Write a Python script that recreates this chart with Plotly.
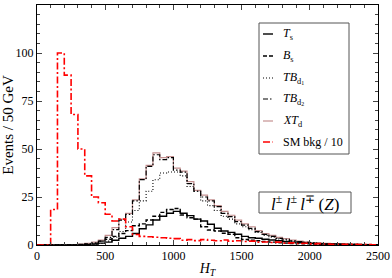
import plotly.graph_objects as go

# ---------------- data (50 GeV bins, 0..2500) ----------------
bin_edges_lo = list(range(0, 2500, 50))

T_s = [0, 0, 0, 0, 0, 0, 0, 0.2, 0.5, 1, 1.5, 2.5, 3.5, 4.5, 6, 8.5, 10.5, 13, 15, 16.5,
       17.5, 16.5, 15.3, 13.5, 12.5, 10.8, 8.7, 7.3, 6.6, 5.6, 4.5, 3.8, 3.5, 3, 2.6, 2.2, 1.8, 1.5, 1.2, 1,
       0.8, 0.7, 0.6, 0.5, 0.4, 0.3, 0.3, 0.2, 0.2, 0.1]
B_s = [0, 0, 0, 0, 0, 0, 0, 0.5, 1, 2, 3, 4.5, 6, 7.5, 10, 11, 13, 15, 17, 18.5,
       19, 15.6, 14.2, 13.5, 9.5, 7.8, 7.3, 6.1, 5.6, 3.8, 2.9, 2.5, 2.2, 1.8, 1.5, 1.2, 1, 0.8, 0.7, 0.6,
       0.5, 0.4, 0.3, 0.3, 0.2, 0.2, 0.1, 0.1, 0.1, 0.1]
TB_d1 = [0, 0, 0, 0, 0, 0, 0, 0, 0.3, 0.8, 2, 4, 7, 12, 18, 23, 28, 34, 37.5, 38,
         38, 36, 30.5, 28, 23, 20.5, 18, 15, 13.5, 11, 9.5, 8, 6.5, 5, 4, 3.2, 2.6, 2, 1.6, 1.3,
         1, 0.8, 0.6, 0.5, 0.4, 0.3, 0.3, 0.2, 0.2, 0.1]
TB_d2 = [0, 0, 0, 0, 0, 0, 0.3, 0.5, 1, 2, 4, 8, 13, 16, 23, 34, 41, 47, 44.5, 45.5,
         39, 38, 32, 28, 25, 23, 20, 16.5, 14.8, 12.2, 10.4, 8.7, 7, 5.5, 4.5, 3.5, 3, 2.2, 1.8, 1.4,
         1.1, 0.9, 0.7, 0.6, 0.5, 0.4, 0.3, 0.3, 0.2, 0.2]
XT_d = [0, 0, 0, 0, 0, 0, 0.5, 0.8, 1.5, 2.5, 5, 9, 13.5, 16.5, 23.5, 34.5, 41.5, 48, 45.5, 46,
        40, 38.5, 33, 28.5, 26, 23.5, 20.5, 17.5, 15.5, 13, 11, 9.5, 7.5, 6, 5, 4, 3.3, 2.6, 2, 1.6,
        1.3, 1.0, 0.8, 0.7, 0.6, 0.5, 0.4, 0.3, 0.3, 0.2]
SM_bkg = [0, 0, 18.5, 100, 88.5, 68, 50, 36, 25, 22, 16, 12.5, 13.5, 9.5, 5.5, 4.5, 4.3, 4, 3.8, 3.5,
          3.3, 2.5, 2.8, 2.3, 2.8, 2.5, 2.2, 2.6, 2, 2.2, 1.8, 2, 1.5, 1.6, 1.3, 1.5, 1, 1.1, 0.8, 0.9,
          0.6, 0.7, 0.5, 0.4, 0.4, 0.3, 0.3, 0.2, 0.2, 0.1]

x_ticks = [0, 500, 1000, 1500, 2000, 2500]
y_ticks = [0, 25, 50, 75, 100, 125]

names = ["<i>T</i><sub>s</sub>", "<i>B</i><sub>s</sub>", "<i>TB</i><sub>d<sub>1</sub></sub>",
         "<i>TB</i><sub>d<sub>2</sub></sub>", "<i>XT</i><sub>d</sub>", "SM bkg / 10"]

# ---------------- styling ----------------
FONT = "Liberation Serif"
styles = {
    "T_s": dict(color="black", width=1.4, dash="solid"),
    "B_s": dict(color="black", width=1.4, dash="4px,2px"),
    "TB_d1": dict(color="black", width=1.1, dash="1px,2px"),
    "TB_d2": dict(color="black", width=1.2, dash="5px,2px,1.5px,2px"),
    "XT_d": dict(color="#c49090", width=1.2, dash="solid"),
    "SM": dict(color="#ff0000", width=1.6, dash="7px,2.5px,2px,2.5px"),
}

series = [("XT_d", XT_d, 4), ("TB_d1", TB_d1, 2), ("TB_d2", TB_d2, 3),
          ("B_s", B_s, 1), ("T_s", T_s, 0), ("SM", SM_bkg, 5)]

fig = go.Figure()
xs = bin_edges_lo + [2500]
for key, vals, ni in series:
    ys = list(vals) + [vals[-1]]
    fig.add_trace(go.Scatter(x=xs, y=ys, mode="lines", line_shape="hv",
                             line=styles[key], name=names[ni], showlegend=False,
                             hoverinfo="skip"))

# ---------------- layout ----------------
L, R, T, B = 37, 14, 5, 33
W, H = 392, 278
pw, ph = W - L - R, H - T - B

def px2paper(px, py):
    return (px - L) / pw, (H - B - py) / ph

fig.update_layout(
    width=W, height=H,
    margin=dict(l=L, r=R, t=T, b=B, autoexpand=False),
    paper_bgcolor="white", plot_bgcolor="white",
    font=dict(family=FONT, size=12, color="black"),
    showlegend=False,
)
fig.update_xaxes(range=[0, 2500], tickvals=x_ticks, ticks="inside", ticklen=5,
                 showline=True, linecolor="black", linewidth=1, mirror="allticks",
                 showgrid=False, zeroline=False, automargin=False,
                 minor=dict(ticks="inside", ticklen=3, dtick=100, showgrid=False),
                 tickfont=dict(family=FONT, size=12),
                 title=dict(text="<i>H<sub>T</sub></i>", font=dict(family=FONT, size=14), standoff=2))
fig.update_yaxes(range=[0, 125], tickvals=y_ticks, ticks="inside", ticklen=5,
                 showline=True, linecolor="black", linewidth=1, mirror="allticks",
                 showgrid=False, zeroline=False, automargin=False,
                 minor=dict(ticks="inside", ticklen=3, dtick=5, showgrid=False),
                 tickfont=dict(family=FONT, size=12),
                 title=dict(text="Events / 50 GeV", font=dict(family=FONT, size=15), standoff=3))

# ---------------- manual legend ----------------
shapes = []
annotations = []
x0, y0 = px2paper(259, 23)
x1, y1 = px2paper(349, 154)
shapes.append(dict(type="rect", xref="paper", yref="paper", x0=x0, y0=y1, x1=x1, y1=y0,
                   line=dict(color="#555555", width=1), fillcolor="white", layer="above"))
legend_keys = ["T_s", "B_s", "TB_d1", "TB_d2", "XT_d", "SM"]
row_y = [34, 56, 78, 99, 121, 142]
for i, key in enumerate(legend_keys):
    lx0, ly = px2paper(263, row_y[i])
    lx1, _ = px2paper(273, row_y[i])
    st = dict(styles[key])
    shapes.append(dict(type="line", xref="paper", yref="paper", x0=lx0, x1=lx1, y0=ly, y1=ly,
                       line=st, layer="above"))
    tx, _ = px2paper(281, row_y[i])
    annotations.append(dict(xref="paper", yref="paper", x=tx, y=ly, text=names[i], showarrow=False,
                            xanchor="left", yanchor="middle", font=dict(family=FONT, size=12)))

# channel label box
bx0, by0 = px2paper(259, 192)
bx1, by1 = px2paper(351, 213)
shapes.append(dict(type="rect", xref="paper", yref="paper", x0=bx0, y0=by1, x1=bx1, y1=by0,
                   line=dict(color="#555555", width=1), fillcolor="white", layer="above"))
cx, cy = px2paper(305, 203)
annotations.append(dict(xref="paper", yref="paper", x=cx, y=cy,
                        text="<i>l</i><sup>±</sup>\u2009<i>l</i><sup>±</sup>\u2009<i>l</i><sup>∓</sup>\u2009(<i>Z</i>)",
                        showarrow=False, xanchor="center", yanchor="middle",
                        font=dict(family=FONT, size=17)))

fig.update_layout(shapes=shapes, annotations=annotations)
fig.write_html("out.html", config={"displayModeBar": False},
               post_script="document.body.style.margin='0';document.body.style.padding='0';")
